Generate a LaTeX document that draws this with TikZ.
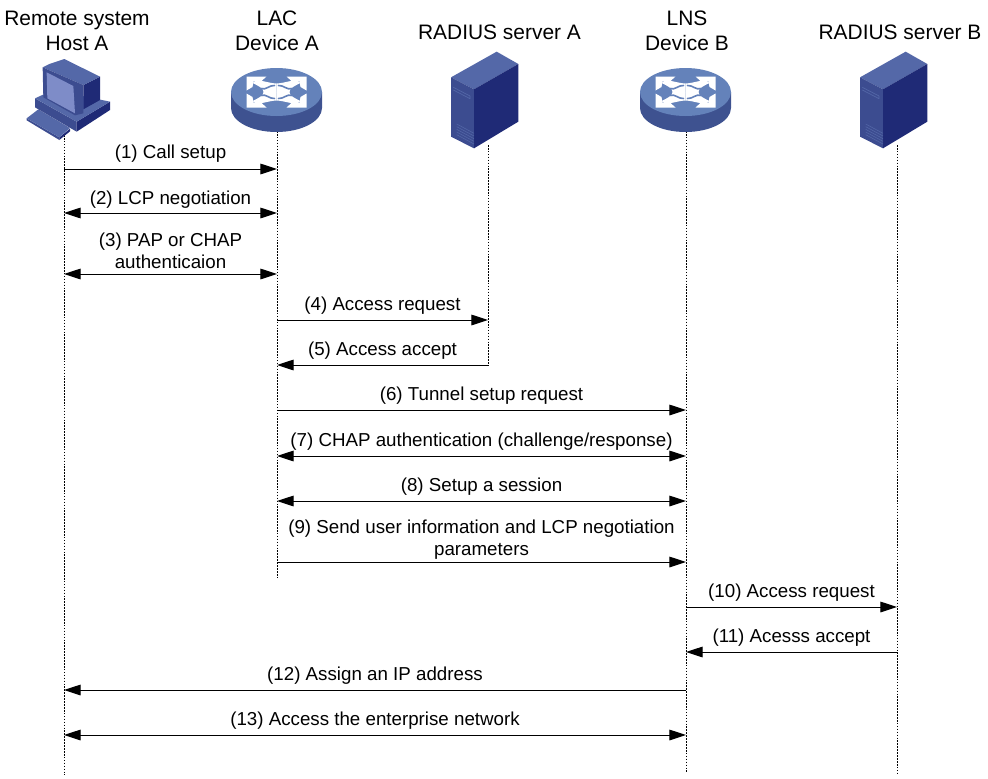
\documentclass[tikz,border=0pt]{standalone}
\usepackage{fontspec}
\setmainfont{Liberation Sans}
\usetikzlibrary{arrows.meta,positioning,calc}

\definecolor{icontop}{HTML}{5468A8}
\definecolor{iconside}{HTML}{1F2A76}
\definecolor{iconfront}{HTML}{3C4C90}
\definecolor{iconscreen}{HTML}{7E8CC8}
\definecolor{routertop}{HTML}{6482BA}
\definecolor{routerside}{HTML}{3E5290}

\tikzset{
	pics/hostpc/.style={code={
		\begin{scope}[scale=1/3,line join=round]
			\fill[iconfront] (20,205) -- (118,262) -- (118,270) -- (20,211) -- cycle;
			\fill[iconside] (118,262) -- (150,236) -- (150,244) -- (118,270) -- cycle;
			\fill[icontop] (20,205) -- (55,178) -- (150,234) -- (118,262) -- cycle;
			\fill[iconfront] (45,145) -- (170,215) -- (170,245) -- (45,172) -- cycle;
			\fill[iconside] (170,215) -- (270,155) -- (270,180) -- (170,245) -- cycle;
			\fill[icontop] (45,145) -- (100,120) -- (270,155) -- (170,215) -- cycle;
			\fill[iconside] (190,105) -- (240,80) -- (240,150) -- (190,178) -- cycle;
			\fill[icontop] (68,52) -- (88,42) -- (133,27) -- (240,80) -- (190,105) -- cycle;
			\fill[iconfront] (68,52) -- (190,105) -- (190,190) -- (165,196) -- (70,142) -- cycle;
			\fill[iconscreen] (80,67) -- (160,108) -- (165,190) -- (82,145) -- cycle;
		\end{scope}
	}},
	pics/routericon/.style={code={
		\fill[routerside] (-45.5,0) -- (-45.5,16) arc[start angle=180,end angle=0,x radius=45.5,y radius=24] -- (45.5,0) -- cycle;
		\fill[routertop] (0,0) ellipse[x radius=45.5,y radius=24];
		\foreach \sx/\sy in {1/1,-1/1,1/-1,-1/-1}{
			\begin{scope}[xscale=\sx,yscale=\sy]
				\fill[white] (-30,-15.5) -- (-10,-15.5) -- (-15,-11) -- (-23,-10.5) -- (-24,-5) -- (-30,-1.5) -- cycle;
				\fill[white] (0,0) -- (0,-8.5) .. controls (-8,-9) and (-12,-11) .. (-20,-12) -- (-24,-9) .. controls (-18,-6) and (-13,-4) .. (-13,0) -- cycle;
				\draw[routertop,line width=1.2pt,line cap=round] (-15,-3.5) .. controls (-11,-1.5) and (-7,-7) .. (-2,-6.5);
			\end{scope}
		}
	}},
	pics/serverbox/.style={code={
		\begin{scope}[scale=1/3,line join=round]
			\fill[icontop] (93,112) -- (230,35) -- (295,72) -- (162,148) -- cycle;
			\fill[iconfront] (93,112) -- (162,148) -- (162,325) -- (93,290) -- cycle;
			\fill[iconside] (162,148) -- (295,72) -- (295,245) -- (162,325) -- cycle;
			\draw[icontop,line width=0.5pt] (100,142) -- (150,168) -- (150,176) -- (100,150);
			\foreach \d in {0,8,...,32}{
				\draw[icontop,line width=0.4pt] (110,252+\d) -- (162,280+\d);
			}
		\end{scope}
	}}
}

\begin{document}
\begin{tikzpicture}[
				x=0.75pt,y=-0.75pt,
				title/.style={align=center,inner sep=0pt,font=\fontsize{15.7}{19}\selectfont},
				msglabel/.style={align=center,inner sep=0pt,font=\fontsize{14.05}{16.4}\selectfont},
				lifeline/.style={dash pattern=on 1.2pt off 1pt,line width=0.75pt},
				oneway/.style={-{Triangle[length=12.5pt,width=8pt]},line width=0.7pt},
				twoway/.style={{Triangle[length=12.5pt,width=8pt]}-{Triangle[length=12.5pt,width=8pt]},line width=0.7pt}
				]
				
				\useasboundingbox (0,0) rectangle (988,778);
				
				% device titles
				\node[title] (hostA) at (77,31) {Remote system\\Host A};
				\node[title] (deviceA) at (277,31) {LAC\\Device A};
				\node[title] (radiusA) at (499.5,32) {RADIUS server A};
				\node[title] (deviceB) at (687,31) {LNS\\Device B};
				\node[title] (radiusB) at (900,32) {RADIUS server B};
				
				% lifeline ends
				\coordinate (hostTop) at (64,135);
				\coordinate (hostEnd) at (64,775);
				\coordinate (lacTop) at (277,131);
				\coordinate (lacEnd) at (277,578);
				\coordinate (radATop) at (488,145);
				\coordinate (radAEnd) at (488,366);
				\coordinate (lnsTop) at (686,131);
				\coordinate (lnsEnd) at (686,772);
				\coordinate (radBTop) at (897,145);
				\coordinate (radBEnd) at (897,775);
				
				\draw[lifeline] (hostTop) -- (hostEnd);
				\draw[lifeline] (lacTop) -- (lacEnd);
				\draw[lifeline] (radATop) -- (radAEnd);
				\draw[lifeline] (lnsTop) -- (lnsEnd);
				\draw[lifeline] (radBTop) -- (radBEnd);
				
				% icons
				\pic at (20,50) {hostpc};
				\pic at (276.5,92) {routericon};
				\pic at (420,40) {serverbox};
				\pic at (685.5,92) {routericon};
				\pic at (829,40) {serverbox};
				
				% message ends on the lifelines
				\foreach \n/\y in {1/169,2/213,3/274,12/690,13/735}{
					\coordinate (host\n) at (64,\y);
				}
				\foreach \n/\y in {1/169,2/213,3/274,4/320,5/365,6/410,7/456,8/501,9/562}{
					\coordinate (lac\n) at (277,\y);
				}
				\foreach \n/\y in {4/320,5/365}{
					\coordinate (radA\n) at (488,\y);
				}
				\foreach \n/\y in {6/410,7/456,8/501,9/562,10/607,11/652,12/690,13/735}{
					\coordinate (lns\n) at (686,\y);
				}
				\foreach \n/\y in {10/607,11/652}{
					\coordinate (radB\n) at (897,\y);
				}
				
				\draw[oneway] (host1) -- (lac1) node[msglabel,midway,above=4.5pt] {(1) Call setup};
				\draw[twoway] (host2) -- (lac2) node[msglabel,midway,above=3pt] {(2) LCP negotiation};
				\draw[twoway] (host3) -- (lac3) node[msglabel,midway,above=3.5pt] {(3) PAP or CHAP\\authenticaion};
				\draw[oneway] (lac4) -- (radA4) node[msglabel,midway,above=3.75pt] {(4) Access request};
				\draw[oneway] (radA5) -- (lac5) node[msglabel,midway,above=3.75pt] {(5) Access accept};
				\draw[oneway] (lac6) -- (lns6) node[msglabel,midway,above=4pt] {(6) Tunnel setup request};
				\draw[twoway] (lac7) -- (lns7) node[msglabel,midway,above=4pt] {(7) CHAP authentication (challenge/response)};
				\draw[twoway] (lac8) -- (lns8) node[msglabel,midway,above=4pt] {(8) Setup a session};
				\draw[oneway] (lac9) -- (lns9) node[msglabel,midway,above=1.5pt] {(9) Send user information and LCP negotiation\\parameters};
				\draw[oneway] (lns10) -- (radB10) node[msglabel,midway,above=4pt] {(10) Access request};
				\draw[oneway] (radB11) -- (lns11) node[msglabel,midway,above=4pt] {(11) Acesss accept};
				\draw[oneway] (lns12) -- (host12) node[msglabel,midway,above=4pt] {(12) Assign an IP address};
				\draw[twoway] (host13) -- (lns13) node[msglabel,midway,above=4pt] {(13) Access the enterprise network};
				
			\end{tikzpicture}
\end{document}
